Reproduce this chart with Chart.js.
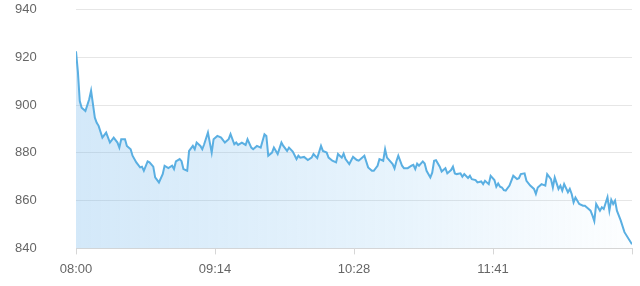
<!DOCTYPE html>
<html>
<head>
  <script src="https://cdn.jsdelivr.net/npm/chart.js"></script>
  <title>Price</title>
  <style>
    html, body { margin: 0; padding: 0; background: #fff; }
    .chart-box { position: relative; width: 640px; height: 286px; }
  </style>
</head>
<body>
<div class="chart-box"><canvas id="priceChart"></canvas></div>
<script>
// minutes after 08:00
const minutes = [
  0, 1, 2, 3, 5, 7, 8, 10, 11, 12, 14, 16, 18, 20, 22, 23, 24, 26, 27, 29,
  30, 32, 34, 35, 36, 38, 39, 41, 42, 44, 46, 47, 49, 51, 52, 53, 55, 56, 57, 59,
  60, 62, 63, 64, 66, 67, 68, 70, 72, 73, 75, 77, 79, 81, 82, 84, 85, 86, 88, 90,
  91, 93, 94, 96, 98, 100, 101, 102, 104, 105, 107, 109, 110, 112, 113, 115, 117, 118, 119, 121,
  123, 125, 126, 128, 130, 131, 133, 134, 136, 138, 139, 141, 142, 143, 145, 147, 149, 150, 153, 155,
  157, 158, 160, 161, 163, 164, 165, 168, 169, 170, 171, 173, 174, 176, 178, 179, 180, 181, 182, 184,
  185, 186, 188, 189, 190, 191, 193, 194, 196, 197, 199, 200, 201, 202, 204, 205, 206, 208, 209, 210,
  212, 213, 215, 216, 217, 219, 220, 222, 223, 224, 225, 226, 227, 228, 230, 232, 234, 235, 236, 238,
  239, 241, 243, 244, 245, 247, 249, 250, 252, 253, 254, 256, 257, 258, 259, 261, 262, 263, 264, 265,
  267, 269, 270, 272, 273, 274, 275, 276, 278, 279, 280, 282, 283, 284, 285, 286, 287, 289, 291, 295
];
const prices = [
  922.5, 914, 901.7, 898.9, 897.5, 902.4, 906, 894.7, 892.6, 891.3, 886.4, 888.5, 884.3, 886.4, 884.3, 882.2, 885.7, 885.7, 882.9, 881.5,
  878.8, 876, 873.9, 874.2, 872.5, 876.4, 876, 874.2, 869.7, 867.6, 871.1, 874.6, 873.6, 874.6, 873.2, 876.4, 877.4, 876.5, 873.2, 872.5,
  880.8, 882.9, 881.5, 884.3, 882.9, 881.5, 883.6, 888.5, 880.1, 885.7, 887.1, 886.4, 884.3, 885.7, 887.8, 883.6, 884.3, 883.3, 884.3, 883.3,
  885.7, 882.2, 881.5, 882.9, 882.2, 887.8, 887.1, 878.8, 880.1, 882.2, 879.5, 884.3, 882.9, 880.8, 882.2, 880.5, 877.4, 878.8, 878, 878.3,
  877, 878, 879.5, 877.8, 882.9, 880.8, 880.1, 878, 876.7, 876, 879.5, 878, 879.7, 877.4, 875.3, 878.3, 877, 876.7, 878.8, 873.9,
  872.5, 872.5, 874.6, 877.4, 876.7, 881.5, 878, 875.3, 873.5, 876.5, 878.8, 874.6, 873.6, 873.6, 874.6, 875, 873.2, 875.5, 874.6, 876.4,
  875.5, 872.5, 869.7, 871.7, 876.7, 876.9, 874.2, 872.2, 873.6, 871.4, 872.8, 874.2, 871.4, 871.1, 871.4, 870, 871.1, 869.5, 870.4, 869,
  868.6, 867.6, 868, 866.9, 868.3, 866.9, 870.4, 868.6, 865.8, 867.2, 865.8, 865.5, 864.4, 864.2, 866.3, 870.4, 869, 869.4, 871.1, 871.4,
  868.3, 866.3, 864.9, 862.8, 865.5, 866.9, 866.3, 871.1, 869, 865.5, 869.7, 864.9, 866.3, 864.2, 866.9, 863.5, 864.9, 862.8, 859.3, 861.3,
  858.6, 857.9, 857.9, 856.5, 855.8, 853.8, 851.4, 858.6, 855.8, 857.2, 856.5, 861.4, 855.8, 860.3, 858.6, 860, 855.8, 851.7, 846.8, 841.7
];
const xTickPos = [0, 73.75, 147.5, 221.25, 295];
const xTickLabels = ['08:00', '09:14', '10:28', '11:41', ''];
const yTicks = [840, 860, 880, 900, 920, 940];

const points = minutes.map((m, i) => ({ x: m, y: prices[i] }));

function fillGradient(ctx) {
  const area = ctx.chart.chartArea;
  if (!area) return 'rgba(90,174,224,0.2)';
  const g = ctx.chart.ctx.createLinearGradient(area.left, 0, area.right, 0);
  g.addColorStop(0, 'rgba(110,180,235,0.3)');
  g.addColorStop(0.6, 'rgba(120,190,240,0.17)');
  g.addColorStop(1, 'rgba(140,200,245,0.02)');
  return g;
}

new Chart(document.getElementById('priceChart'), {
  type: 'line',
  data: {
    datasets: [{
      data: points,
      borderColor: '#5aafe2',
      borderWidth: 2,
      pointRadius: 0,
      tension: 0,
      fill: 'start',
      backgroundColor: fillGradient
    }]
  },
  options: {
    responsive: true,
    maintainAspectRatio: false,
    animation: false,
    layout: { padding: { left: 15, right: 8, top: 0, bottom: 2 } },
    plugins: { legend: { display: false }, tooltip: { enabled: false } },
    scales: {
      x: {
        type: 'linear',
        min: 0,
        max: 295,
        afterBuildTicks: scale => { scale.ticks = xTickPos.map(v => ({ value: v })); },
        ticks: {
          autoSkip: false,
          maxRotation: 0,
          padding: 7,
          color: '#666',
          font: { family: 'Liberation Sans, Arial, sans-serif', size: 13 },
          callback: (v, i) => xTickLabels[i]
        },
        grid: { drawOnChartArea: false, drawTicks: true, tickLength: 6, color: '#d6d6d6' },
        border: { display: true, color: '#d6d6d6' }
      },
      y: {
        min: 840,
        max: 940,
        afterBuildTicks: scale => { scale.ticks = yTicks.map(v => ({ value: v })); },
        afterFit: scale => { scale.width = 61; },
        ticks: {
          crossAlign: 'far',
          color: '#666',
          font: { family: 'Liberation Sans, Arial, sans-serif', size: 13, lineHeight: 1 }
        },
        grid: { color: '#e6e6e6', drawTicks: false },
        border: { display: false }
      }
    }
  }
});
</script>
</body>
</html>
